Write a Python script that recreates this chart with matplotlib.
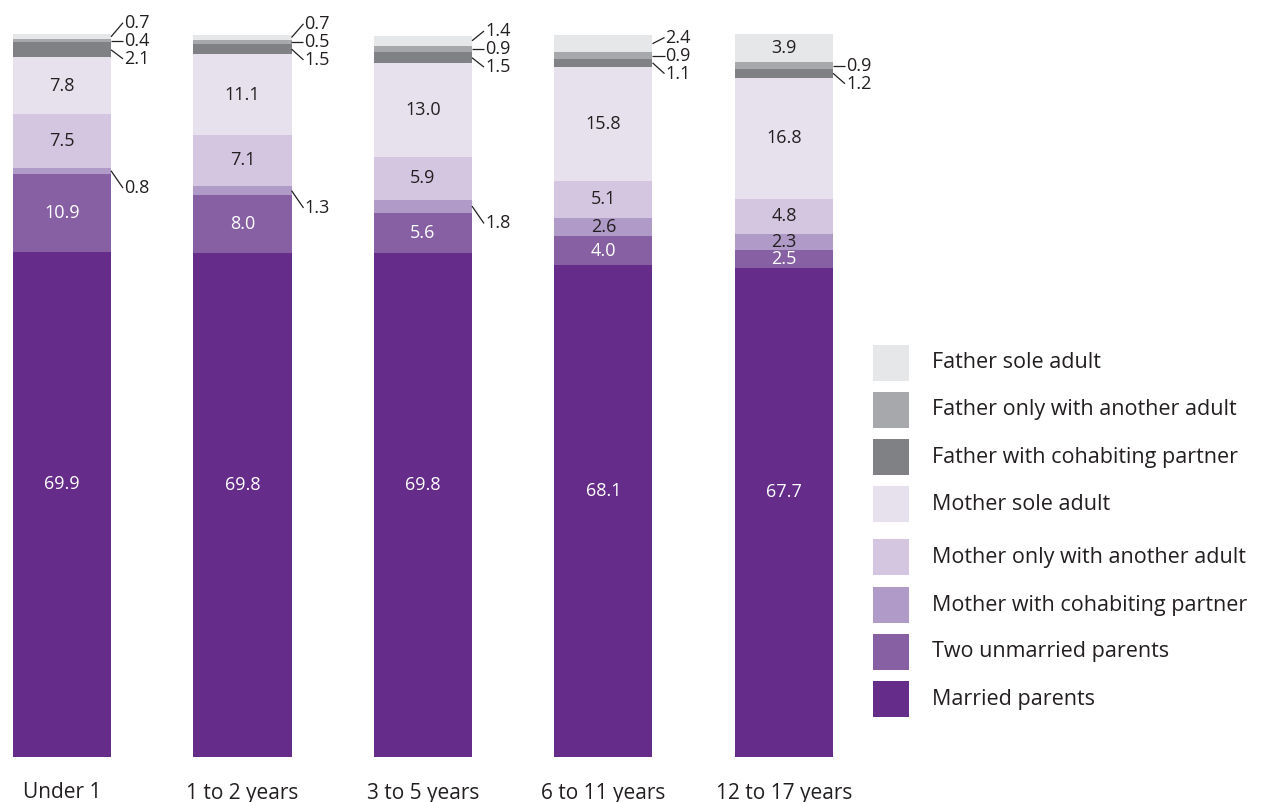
import matplotlib
matplotlib.use("Agg")
import matplotlib.pyplot as plt
from matplotlib.patches import Rectangle

plt.rcParams['font.family'] = ['Open Sans', 'DejaVu Sans']

categories = ["Under 1", "1 to 2 years", "3 to 5 years", "6 to 11 years", "12 to 17 years"]
series_names = ["Married parents", "Two unmarried parents", "Mother with cohabiting partner",
                "Mother only with another adult", "Mother sole adult",
                "Father with cohabiting partner", "Father only with another adult", "Father sole adult"]
married = [69.9, 69.8, 69.8, 68.1, 67.7]
unmarried = [10.9, 8.0, 5.6, 4.0, 2.5]
mother_cohab = [0.8, 1.3, 1.8, 2.6, 2.3]
mother_other = [7.5, 7.1, 5.9, 5.1, 4.8]
mother_sole = [7.8, 11.1, 13.0, 15.8, 16.8]
father_cohab = [2.1, 1.5, 1.5, 1.1, 1.2]
father_other = [0.4, 0.5, 0.9, 0.9, 0.9]
father_sole = [0.7, 0.7, 1.4, 2.4, 3.9]

series = [married, unmarried, mother_cohab, mother_other, mother_sole,
          father_cohab, father_other, father_sole]
colors = ["#652D89", "#8660A3", "#B09AC7", "#D4C6E0", "#E7E1EE",
          "#808184", "#A7A8AB", "#E6E7E8"]
text_colors = ["white", "white"] + ["#231F20"] * 6

W, H = 1266, 802
fig = plt.figure(figsize=(W / 100, H / 100), dpi=100)
ax = fig.add_axes([0, 0, 1, 1])
ax.axis('off')

x0px, step = 62, 180.5
ax.set_xlim(-x0px / step, (W - x0px) / step)
base_px, scale = 757, 7.22
ax.set_ylim(-(H - base_px) / scale, base_px / scale)

bw = 98 / step
xs = list(range(len(categories)))
bottoms = [0.0] * len(categories)
centers = []
for s, c in zip(series, colors):
    ax.bar(xs, s, bw, bottom=bottoms, color=c, linewidth=0)
    centers.append([b + v / 2 for b, v in zip(bottoms, s)])
    bottoms = [b + v for b, v in zip(bottoms, s)]

dark = "#231F20"
fs_val = 13
for i in xs:
    for k, s in enumerate(series):
        v = s[i]
        outside = (k in (5, 6)) or (k == 7 and v < 3) or (k == 2 and v < 2)
        if not outside:
            yy = centers[k][i] + (2.8 if k == 0 else 0)
            ax.text(i, yy, f"{v:.1f}", ha='center', va='center',
                    color=text_colors[k], fontsize=fs_val)
    xr = i + bw / 2
    xt = xr + 13 / step
    lab = {}
    c_mid = centers[6][i]
    lab[6] = c_mid
    lab[5] = c_mid - 2.5
    if father_sole[i] < 3:
        lab[7] = c_mid + 2.5
    if mother_cohab[i] < 2:
        lab[2] = centers[2][i] - 2.4
    for k, ly in lab.items():
        ax.plot([xr, xt - 1 / step], [centers[k][i], ly], color=dark, lw=0.9,
                solid_capstyle='butt')
        ax.text(xt, ly, f"{series[k][i]:.1f}", ha='left', va='center',
                color=dark, fontsize=fs_val)

for i, cat in enumerate(categories):
    ax.text(i, -(793 - base_px) / scale, cat, ha='center', va='center',
            color=dark, fontsize=15)

leg_tops = [345, 392, 439, 486, 539, 587, 634, 681]
for n, k in enumerate(range(7, -1, -1)):
    top = leg_tops[n]
    fig.add_artist(Rectangle((873 / W, 1 - (top + 36) / H), 36 / W, 36 / H,
                             transform=fig.transFigure, color=colors[k], lw=0))
    fig.text(932 / W, 1 - (top + 18) / H, series_names[k], ha='left', va='center',
             color=dark, fontsize=15.5)

fig.savefig("out.png", dpi=100)
